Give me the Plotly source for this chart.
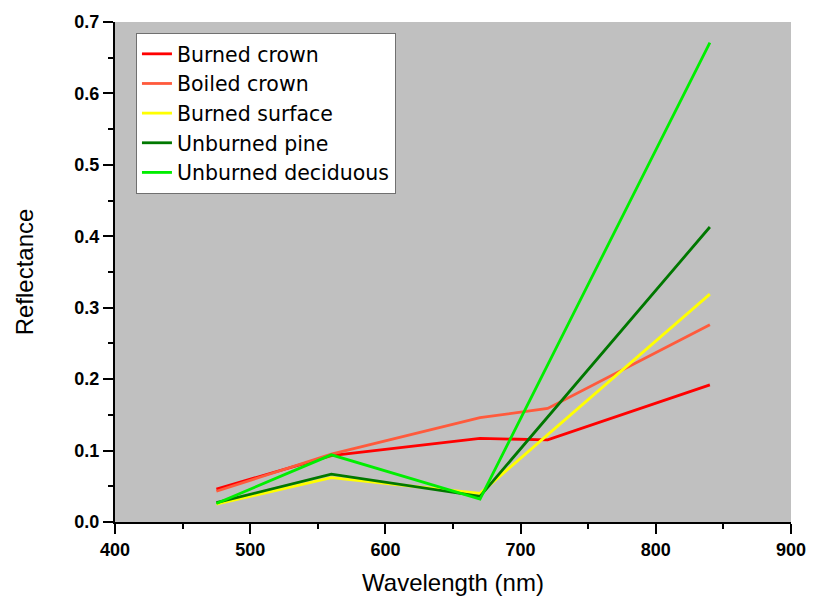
import plotly.graph_objects as go

# Data
wl_5 = [475, 560, 670, 720, 840]
wl_4 = [475, 560, 670, 840]

burned_crown = [0.046, 0.093, 0.117, 0.115, 0.192]
boiled_crown = [0.043, 0.095, 0.146, 0.159, 0.276]
burned_surface = [0.025, 0.062, 0.040, 0.319]
unburned_pine = [0.027, 0.067, 0.036, 0.413]
unburned_deciduous = [0.026, 0.094, 0.032, 0.671]

series = [
    ("Burned crown", wl_5, burned_crown, "#FF0000"),
    ("Boiled crown", wl_5, boiled_crown, "#FF5A3C"),
    ("Burned surface", wl_4, burned_surface, "#FFFF00"),
    ("Unburned pine", wl_4, unburned_pine, "#007800"),
    ("Unburned deciduous", wl_4, unburned_deciduous, "#00EE00"),
]

FONT = "Arial, Liberation Sans, sans-serif"

fig = go.Figure()
for name, x, y, c in series:
    fig.add_trace(go.Scatter(x=x, y=y, mode="lines", name=name,
                             line=dict(color=c, width=2.8)))

fig.update_layout(
    width=818, height=604,
    margin=dict(l=115, r=18, t=18, b=79),
    paper_bgcolor="white",
    plot_bgcolor="#C0C0C0",
    font=dict(family=FONT, color="black"),
    showlegend=True,
    legend=dict(
        x=0.031, y=0.978, xanchor="left", yanchor="top",
        bgcolor="white", bordercolor="#707070", borderwidth=1,
        font=dict(size=20.5, family="DejaVu Sans, " + FONT, color="black"),
        itemwidth=30,
    ),
)

tickfont = dict(size=18, family=FONT, color="black", weight="bold")

fig.update_xaxes(
    range=[400, 900], dtick=100, tick0=400,
    showgrid=False, zeroline=False,
    showline=True, linecolor="black", linewidth=2,
    ticks="outside", ticklen=10, tickwidth=2, tickcolor="black",
    tickfont=tickfont,
    minor=dict(dtick=50, tick0=400, ticks="outside", ticklen=5, tickwidth=2, tickcolor="black", showgrid=False),
    title=dict(text="Wavelength (nm)", font=dict(size=24, family=FONT), standoff=16),
)
fig.update_yaxes(
    range=[0, 0.7], dtick=0.1, tick0=0, tickformat=".1f",
    showgrid=False, zeroline=False,
    showline=True, linecolor="black", linewidth=2,
    ticks="outside", ticklen=10, tickwidth=2, tickcolor="black",
    tickfont=tickfont,
    minor=dict(dtick=0.05, tick0=0, ticks="outside", ticklen=5, tickwidth=2, tickcolor="black", showgrid=False),
    title=dict(text="Reflectance", font=dict(size=24, family=FONT), standoff=34),
)

fig.write_html("out.html")
